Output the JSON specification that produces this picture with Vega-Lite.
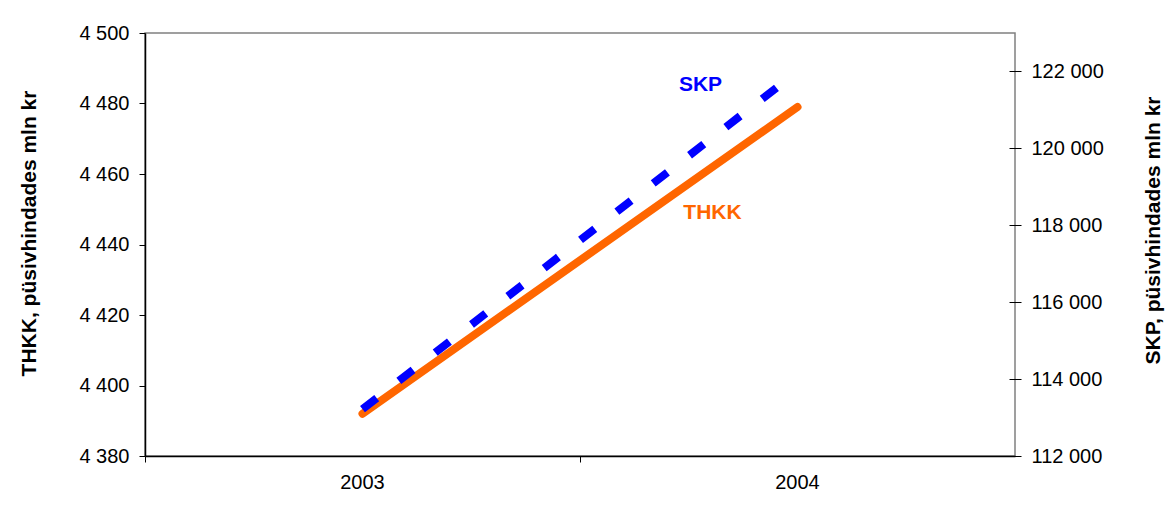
{
  "$schema": "https://vega.github.io/schema/vega-lite/v6.json",
  "autosize": "none",
  "width": 870,
  "height": 423,
  "padding": {"left": 145, "top": 33, "right": 153, "bottom": 62},
  "background": "white",
  "config": {
    "font": "Liberation Sans",
    "locale": {"number": {"decimal": ",", "thousands": " ", "grouping": [3], "currency": ["", ""]}},
    "view": {"stroke": "#808080", "strokeWidth": 1.5},
    "axis": {
      "labelFont": "Liberation Sans",
      "labelFontSize": 20,
      "labelColor": "black",
      "titleFont": "Liberation Sans",
      "titleFontSize": 21,
      "titleFontWeight": "bold",
      "titleColor": "black",
      "domainColor": "black",
      "tickColor": "black",
      "grid": false
    }
  },
  "encoding": {
    "x": {
      "field": "year",
      "type": "ordinal",
      "scale": {"type": "band", "paddingInner": 0, "paddingOuter": 0, "domain": ["2003", "2004"]},
      "axis": {"title": null, "labelAngle": 0, "bandPosition": 0, "tickSize": 6, "labelPadding": 10, "domainWidth": 1.5}
    }
  },
  "layer": [
    {
      "layer": [
        {
          "data": {"values": [{"year": "2003", "thkk": 4392}, {"year": "2004", "thkk": 4479}]},
          "mark": {"type": "line", "color": "#FF6600", "strokeWidth": 8, "strokeCap": "round"},
          "encoding": {
            "y": {
              "field": "thkk",
              "type": "quantitative",
              "scale": {"domain": [4380, 4500], "nice": false, "zero": false},
              "axis": {"orient": "left", "title": "THKK, püsivhindades mln kr", "values": [4380, 4400, 4420, 4440, 4460, 4480, 4500], "format": ",d", "tickSize": 6, "labelPadding": 10, "titlePadding": 39, "titleY": 200, "domainWidth": 1.5}
            }
          }
        },
        {
          "data": {"values": [{"year": "2004", "thkk": 4449, "label": "THKK"}]},
          "mark": {"type": "text", "color": "#FF6600", "fontWeight": "bold", "fontSize": 21, "dx": -85, "align": "center", "baseline": "middle"},
          "encoding": {
            "y": {"field": "thkk", "type": "quantitative"},
            "text": {"field": "label"}
          }
        }
      ]
    },
    {
      "layer": [
        {
          "data": {"values": [{"year": "2003", "skp": 113220}, {"year": "2004", "skp": 122000}]},
          "mark": {"type": "line", "color": "#0000FF", "strokeWidth": 8, "strokeCap": "butt", "strokeDash": [18, 28]},
          "encoding": {
            "y": {
              "field": "skp",
              "type": "quantitative",
              "scale": {"domain": [112000, 123000], "nice": false, "zero": false},
              "axis": {"orient": "right", "title": "SKP, püsivhindades mln kr", "values": [112000, 114000, 116000, 118000, 120000, 122000], "format": ",d", "tickSize": 12, "offset": -6, "labelPadding": 10, "titlePadding": 60, "titleAngle": 270, "titleBaseline": "bottom", "titleY": 197, "domain": false}
            }
          }
        },
        {
          "data": {"values": [{"year": "2004", "skp": 121650, "label": "SKP"}]},
          "mark": {"type": "text", "color": "#0000FF", "fontWeight": "bold", "fontSize": 21, "dx": -97, "align": "center", "baseline": "middle"},
          "encoding": {
            "y": {"field": "skp", "type": "quantitative"},
            "text": {"field": "label"}
          }
        }
      ]
    }
  ],
  "resolve": {"scale": {"y": "independent"}}
}
